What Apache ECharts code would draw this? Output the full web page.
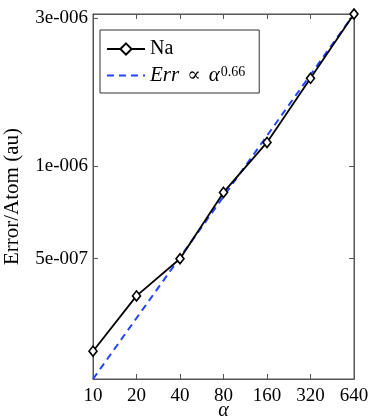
<!DOCTYPE html>
<html>
<head>
<meta charset="utf-8">
<title>error per atom</title>
<script src="https://cdn.jsdelivr.net/npm/echarts@6.0.0/dist/echarts.min.js"></script>
<style>
  html, body { margin: 0; padding: 0; background: #fff; }
  #main { width: 374px; height: 419px; }
</style>
</head>
<body>
<div id="main"></div>
<script>
// alpha values (x) and error per atom for Na
const alphas = [10, 20, 40, 80, 160, 320, 640];
const naError = [2.51e-7, 3.79e-7, 5.0e-7, 8.2e-7, 1.19e-6, 1.92e-6, 3.1e-6];
// fitted power law, drawn between its two end points
const fitAlpha = [10, 640];
const fitError = [2.04e-7, 3.1e-6];
// axis ticks
const xTicks = [10, 20, 40, 80, 160, 320, 640];
const yTicks = [5e-7, 1e-6, 3e-6];
const yTickLabels = ['5e-007', '1e-006', '3e-006'];

const serif = '"Liberation Serif", "DejaVu Serif", serif';
const fitName = 'Err ∝ α^0.66';

function yLabel(v) {
  let best = 0;
  yTicks.forEach((t, i) => {
    if (Math.abs(Math.log(v / t)) < Math.abs(Math.log(v / yTicks[best]))) best = i;
  });
  return yTickLabels[best];
}

const axisBase = {
  axisLine: { show: true, lineStyle: { color: '#555', width: 1 } },
  splitLine: { show: false }
};
const tick = (vals) => ({ inside: true, length: 5, lineStyle: { color: '#555' }, customValues: vals });

var myChart = echarts.init(document.getElementById('main'));
var option = {
  animation: false,
  backgroundColor: '#fff',
  grid: { left: 93, right: 20, top: 14, bottom: 40, show: true, borderColor: '#555', borderWidth: 1,
    containLabel: false, outerBoundsMode: 'none' },
  legend: {
    orient: 'vertical', left: 100, top: 30,
    backgroundColor: '#fff', borderColor: '#333', borderWidth: 1,
    padding: [9, 14, 7, 6], itemGap: 6, itemWidth: 38, itemHeight: 14,
    data: [
      { name: 'Na' },
      { name: fitName, itemStyle: { opacity: 0 } }
    ],
    textStyle: {
      fontFamily: serif, fontSize: 20, color: '#000',
      rich: {
        i: { fontFamily: serif, fontStyle: 'italic', fontSize: 21, color: '#000' },
        p: { fontFamily: serif, fontSize: 20, color: '#000', padding: [0, 8] },
        s: { fontFamily: serif, fontSize: 14, color: '#000', verticalAlign: 'top', padding: [0, 0, 7, 1] }
      }
    },
    formatter: function (name) {
      return name === 'Na' ? 'Na' : '{i|Err}{p|∝}{i|α}{s|0.66}';
    }
  },
  xAxis: [
    Object.assign({}, axisBase, {
      type: 'log', logBase: 2, min: 10, max: 640, position: 'bottom',
      name: 'α', nameLocation: 'middle', nameGap: 32, nameMoveOverlap: false,
      nameTextStyle: { fontFamily: serif, fontStyle: 'italic', fontSize: 20, color: '#000', verticalAlign: 'middle' },
      axisTick: tick(xTicks),
      axisLabel: { customValues: xTicks, fontFamily: serif, fontSize: 19, color: '#000', margin: 8,
        formatter: v => String(Math.round(v)) }
    }),
    Object.assign({}, axisBase, {
      type: 'log', logBase: 2, min: 10, max: 640, position: 'top',
      axisTick: tick(xTicks),
      axisLabel: { show: false, customValues: xTicks }
    })
  ],
  yAxis: [
    Object.assign({}, axisBase, {
      type: 'log', min: 2.04e-7, max: 3.1e-6, position: 'left',
      name: 'Error/Atom (au)', nameLocation: 'middle', nameGap: 70, nameRotate: 90, nameMoveOverlap: false,
      nameTextStyle: { fontFamily: serif, fontSize: 21, color: '#000' },
      axisTick: tick(yTicks),
      axisLabel: { customValues: yTicks, fontFamily: serif, fontSize: 19, color: '#000', margin: 5,
        formatter: yLabel }
    }),
    Object.assign({}, axisBase, {
      type: 'log', min: 2.04e-7, max: 3.1e-6, position: 'right',
      axisTick: tick(yTicks),
      axisLabel: { show: false, customValues: yTicks }
    })
  ],
  series: [
    {
      name: 'Na', type: 'line', z: 3,
      data: alphas.map((a, i) => [a, naError[i]]),
      symbol: 'diamond', symbolSize: [8, 10], showSymbol: true,
      itemStyle: { color: '#fff', borderColor: '#000', borderWidth: 1.6 },
      lineStyle: { color: '#000', width: 1.8 }
    },
    {
      name: fitName, type: 'line', z: 2,
      data: fitAlpha.map((a, i) => [a, fitError[i]]),
      symbol: 'none',
      itemStyle: { color: '#2244ff' },
      lineStyle: { color: '#2244ff', width: 2, type: [7, 5] }
    }
  ]
};
myChart.setOption(option);
</script>
</body>
</html>
